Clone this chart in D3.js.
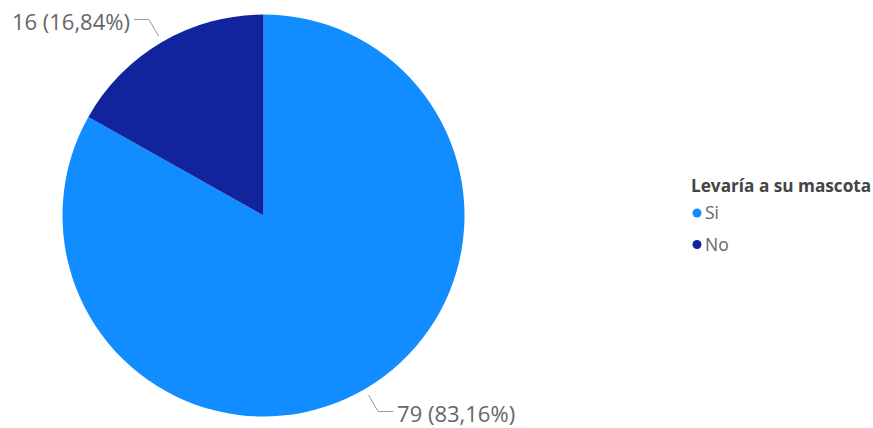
<!DOCTYPE html>
<html>
<head>
<meta charset="utf-8">
<script src="https://cdn.jsdelivr.net/npm/d3@7"></script>
<style>
  html, body { margin: 0; padding: 0; background: #ffffff; }
  svg { display: block; }
</style>
</head>
<body>
<svg id="chart" width="873" height="428"></svg>
<script>
// Respuestas a "Levaría a su mascota"
const categories = ["Si", "No"];
const counts = [79, 16];
const colors = ["#118DFF", "#12239E"];
const legendTitle = "Levaría a su mascota";

const width = 873, height = 428;
const cx = 263.5, cy = 215.5, radius = 201;

const svg = d3.select("#chart");
const total = d3.sum(counts);
const fmtPct = v => (v * 100).toFixed(2).replace(".", ",") + "%";

const data = categories.map((c, i) => ({ cat: c, value: counts[i], color: colors[i] }));

const pie = d3.pie().value(d => d.value).sort(null);
const arcs = pie(data);
const arc = d3.arc().innerRadius(0).outerRadius(radius);

const g = svg.append("g").attr("transform", `translate(${cx},${cy})`);

g.selectAll("path.slice")
  .data(arcs)
  .join("path")
  .attr("class", "slice")
  .attr("d", arc)
  .attr("fill", d => d.data.color);

// Leader lines and data labels
const innerLead = d3.arc().innerRadius(radius + 7).outerRadius(radius + 7);
const outerLead = d3.arc().innerRadius(radius + 26).outerRadius(radius + 26);
const hLen = 15;

arcs.forEach(d => {
  const p1 = innerLead.centroid(d);
  const p2 = outerLead.centroid(d);
  const mid = (d.startAngle + d.endAngle) / 2;
  const right = Math.sin(mid) >= 0;
  const p3 = [p2[0] + (right ? hLen : -hLen), p2[1]];
  g.append("polyline")
    .attr("points", [p1, p2, p3].map(p => p.join(",")).join(" "))
    .attr("fill", "none")
    .attr("stroke", "#9a9a9a")
    .attr("stroke-width", 1);
  g.append("text")
    .attr("x", p3[0] + (right ? 4 : -4))
    .attr("y", p3[1] + 3)
    .attr("dy", "0.35em")
    .attr("text-anchor", right ? "start" : "end")
    .attr("font-family", "'Open Sans', 'Noto Sans', sans-serif")
    .attr("font-size", 22)
    .attr("fill", "#666666")
    .text(`${d.data.value} (${fmtPct(d.data.value / total)})`);
});

// Legend
const lg = svg.append("g").attr("transform", "translate(691,186)");
lg.append("text")
  .attr("x", 0).attr("y", 0).attr("dy", "0.35em")
  .attr("font-family", "'Open Sans', 'Noto Sans', sans-serif")
  .attr("font-size", 17.2)
  .attr("font-weight", "bold")
  .attr("fill", "#444444")
  .text(legendTitle);

const items = lg.selectAll("g.item")
  .data(data)
  .join("g")
  .attr("class", "item")
  .attr("transform", (d, i) => `translate(0,${27 + i * 31.5})`);
items.append("circle")
  .attr("cx", 6).attr("cy", 0).attr("r", 4.5)
  .attr("fill", d => d.color);
items.append("text")
  .attr("x", 14).attr("y", 0).attr("dy", "0.35em")
  .attr("font-family", "'Open Sans', 'Noto Sans', sans-serif")
  .attr("font-size", 17.5)
  .attr("fill", "#666666")
  .text(d => d.cat);
</script>
</body>
</html>
